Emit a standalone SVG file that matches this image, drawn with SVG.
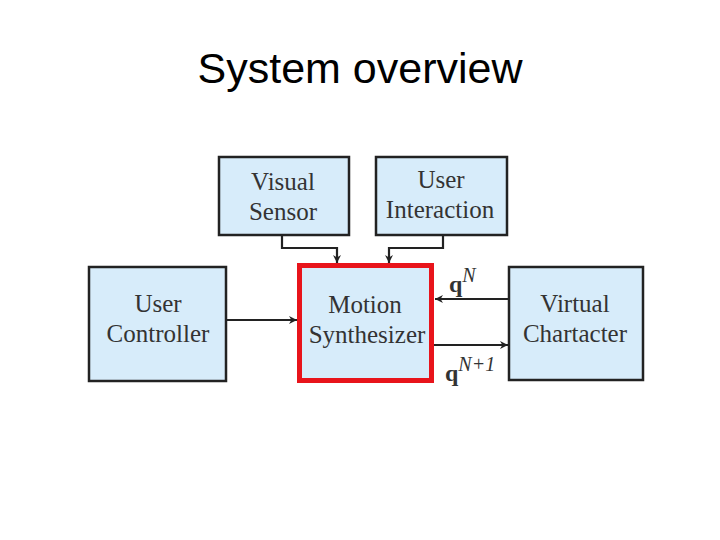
<svg xmlns="http://www.w3.org/2000/svg" width="720" height="540" viewBox="0 0 720 540">
<style>
.box{fill:#d7ecfa;stroke:#222;stroke-width:2.5}
.lbl{font-family:"Liberation Serif","Times New Roman",serif;font-size:25px;fill:#333;text-anchor:middle}
.ln{fill:none;stroke:#222;stroke-width:2.2}
.q{font-family:"Liberation Serif",serif;fill:#333}
</style>
<defs>
<marker id="ah" viewBox="0 0 10 10" refX="10" refY="5" markerWidth="8" markerHeight="8" orient="auto" markerUnits="userSpaceOnUse">
<path d="M0,0 L10,5 L0,10 L3,5 z" fill="#222"/>
</marker>
</defs>
<rect width="720" height="540" fill="#fff"/>
<text x="360" y="83" font-family="Liberation Sans, Arial, sans-serif" font-size="43" text-anchor="middle" fill="#000">System overview</text>
<g id="visual-sensor"><rect class="box" x="219" y="157" width="130" height="78"/><text class="lbl" x="283" y="190">Visual</text><text class="lbl" x="283" y="220">Sensor</text></g>
<g id="user-interaction"><rect class="box" x="376" y="157" width="131" height="78"/><text class="lbl" x="441" y="188">User</text><text class="lbl" x="440" y="218">Interaction</text></g>
<g id="user-controller"><rect class="box" x="89" y="267" width="137" height="114"/><text class="lbl" x="158" y="312">User</text><text class="lbl" x="158" y="342">Controller</text></g>
<g id="motion-synthesizer"><rect x="299.5" y="265.5" width="132" height="115" fill="#d7ecfa" stroke="#e8141b" stroke-width="5"/><text class="lbl" x="365" y="313">Motion</text><text class="lbl" x="367" y="343">Synthesizer</text></g>
<g id="virtual-character"><rect class="box" x="509" y="267" width="134" height="113"/><text class="lbl" x="575" y="312">Virtual</text><text class="lbl" x="575" y="342">Chartacter</text></g>
<g id="connectors">
<path class="ln" d="M282,235 V248 H337 V263" marker-end="url(#ah)"/>
<path class="ln" d="M443,235 V248 H389 V263" marker-end="url(#ah)"/>
<path class="ln" d="M226,320 H297" marker-end="url(#ah)"/>
<path class="ln" d="M509,299 H435" marker-end="url(#ah)"/>
<path class="ln" d="M434,345 H508" marker-end="url(#ah)"/>
<text class="q" x="449" y="292" font-size="24" font-weight="bold">q<tspan dy="-10" font-size="20" font-style="italic" font-weight="normal">N</tspan></text>
<text class="q" x="445" y="381" font-size="24" font-weight="bold">q<tspan dy="-10" font-size="20" font-style="italic" font-weight="normal">N+1</tspan></text>
</g>
</svg>
